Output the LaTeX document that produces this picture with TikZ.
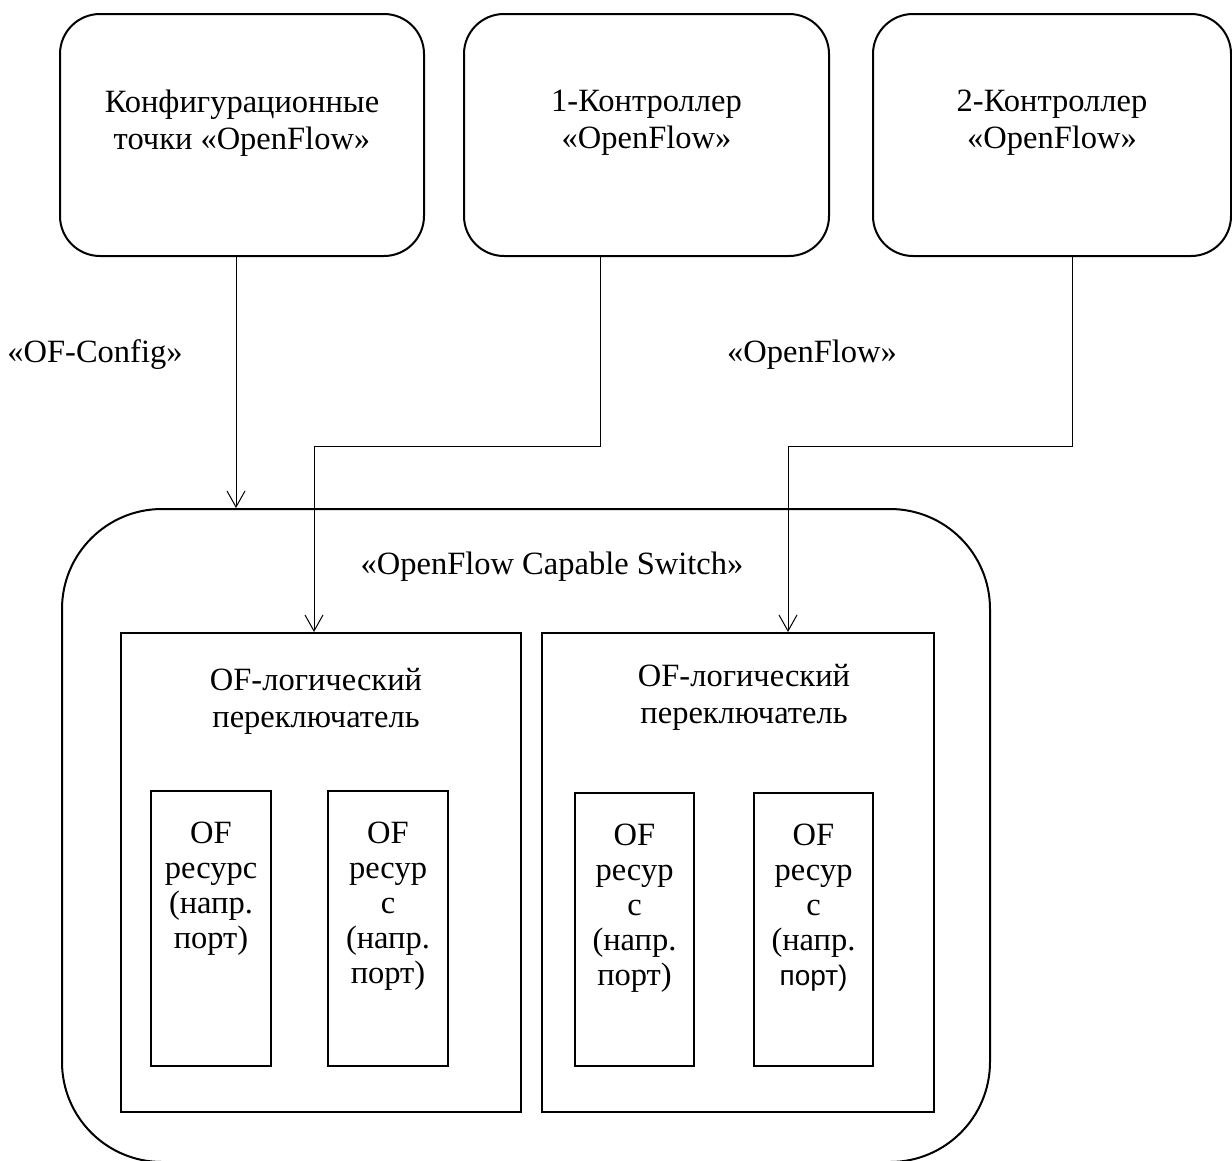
\documentclass[tikz,border=0pt]{standalone}
\usepackage{fontspec}
\setmainfont{Liberation Serif}
\newfontfamily\sansf{Liberation Sans}
\usetikzlibrary{arrows.meta,calc}
\begin{document}
\begin{tikzpicture}[x=1pt,y=-1pt,
  txt/.style={font=\fontsize{32.5}{37}\selectfont, align=center, inner sep=0pt},
  topbox/.style={draw, line width=2pt, rounded corners=40pt, minimum height=242pt},
  plainbox/.style={draw, line width=2pt},
  arr/.style={line width=1pt, -{Straight Barb[length=16pt,width=18pt,line width=1pt]}},
  lbl/.style={txt, anchor=north},
  rtxt/.style={lbl, font=\fontsize{32.5}{35}\selectfont}]
\useasboundingbox (0,0) rectangle (1232,1160);
\fill[white] (0,0) rectangle (1232,1160);
% top boxes
\node[topbox, minimum width=364pt] (b1) at (242,135) {};
\node[topbox, minimum width=365pt] (b2) at (646.5,135) {};
\node[topbox, minimum width=358pt] (b3) at (1052,135) {};
\node[lbl] (t1) at (242,90) {Конфигурационные\\точки «OpenFlow»};
\node[lbl] (t2) at (646.5,90) {1-Контроллер\\«OpenFlow»};
\node[lbl] (t3) at (1052,90) {2-Контроллер\\«OpenFlow»};
% outer switch
\node[draw, line width=2pt, rounded corners=100pt, minimum width=928pt, minimum height=653pt] (sw) at (526,835.5) {};
\node[txt] (swl) at (552,567) {«OpenFlow Capable Switch»};
% logical switches
\node[plainbox, minimum width=400pt, minimum height=479pt] (il) at (321,872.5) {};
\node[plainbox, minimum width=392pt, minimum height=479pt] (ir) at (738,872.5) {};
\node[lbl] (ilt) at (316,668) {OF-логический\\переключатель};
\node[lbl] (irt) at (744,664) {OF-логический\\переключатель};
% resources
\node[plainbox, minimum width=120pt, minimum height=275pt] (r1) at (211,928.5) {};
\node[plainbox, minimum width=120pt, minimum height=275pt] (r2) at (388,928.5) {};
\node[plainbox, minimum width=119pt, minimum height=273pt] (r3) at (634.5,929.5) {};
\node[plainbox, minimum width=119pt, minimum height=273pt] (r4) at (813.5,929.5) {};
\node[rtxt] (r1t) at (211,822) {OF\\ресурс\\(напр.\\порт)};
\node[rtxt] (r2t) at (388,822) {OF\\ресур\\с\\(напр.\\порт)};
\node[rtxt] (r3t) at (634.5,824) {OF\\ресур\\с\\(напр.\\порт)};
\node[rtxt] (r4t) at (813.5,824) {OF\\ресур\\с\\(напр.\\{\sansf\fontsize{28}{35}\selectfont порт)}};
% labels
\node[txt] (lof) at (95,355) {«OF-Config»};
\node[txt] (lo) at (812,355) {«OpenFlow»};
% connectors
\draw[arr] ([xshift=-6pt]b1.south) -- ([xshift=-6pt]b1.south |- sw.north);
\draw[arr] ([xshift=-46.5pt]b2.south) -- ++(0,189) -| ([xshift=-7pt]il.north);
\draw[arr] ([xshift=20pt]b3.south) -- ++(0,189) -| ([xshift=50pt]ir.north);
\end{tikzpicture}
\end{document}
